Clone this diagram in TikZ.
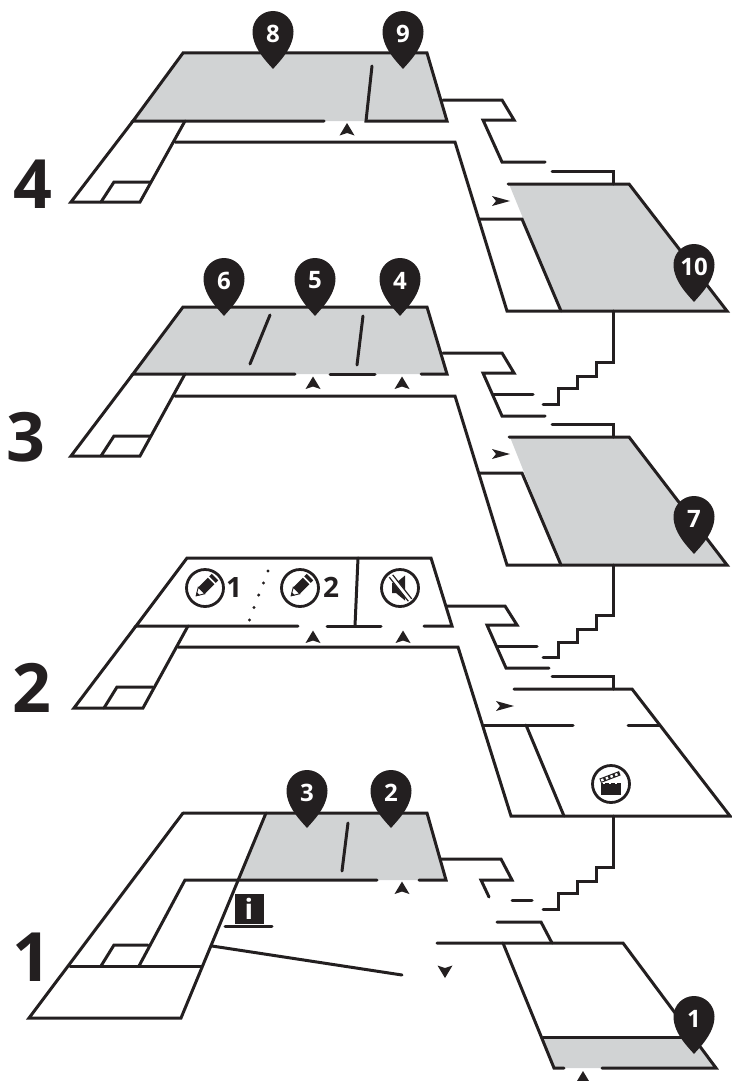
\documentclass[tikz,border=0pt]{standalone}
\usepackage{fontspec}
\setmainfont{Open Sans}
\usepackage{xcolor}
\usepackage{tikz}
\usetikzlibrary{positioning,calc}
\definecolor{ink}{HTML}{231F20}
\definecolor{roomgray}{HTML}{D1D3D4}
\tikzstyle{wall}= [draw=ink, line width=3pt, line cap=round, line join=miter, miter limit=6]
\tikzstyle{room}= [fill=roomgray, draw=none]
\tikzstyle{ring}= [draw=ink, line width=2.8pt, fill=white]
\tikzstyle{floorno}= [text=ink, font=\bfseries\fontsize{68}{68}\selectfont, inner sep=0pt]
\tikzstyle{pinno}= [text=white, font=\bfseries\fontsize{24}{24}\selectfont, inner sep=0pt]
\tikzstyle{iconno}= [text=ink, font=\bfseries\fontsize{28}{28}\selectfont, inner sep=0pt]
\tikzstyle{spot}= [circle, fill=ink, inner sep=0pt, minimum size=3.4pt]
\newcommand{\mappin}[4]{
	\fill[ink] (#2,#3) .. controls ($(#2,#3)+(-4,-5)$) and ($(#2,#3)+(-20.5,-20)$) .. ($(#2,#3)+(-20.5,-37.5)$)
		.. controls ($(#2,#3)+(-20.5,-49)$) and ($(#2,#3)+(-11,-58)$) .. ($(#2,#3)+(0,-58)$)
		.. controls ($(#2,#3)+(11,-58)$) and ($(#2,#3)+(20.5,-49)$) .. ($(#2,#3)+(20.5,-37.5)$)
		.. controls ($(#2,#3)+(20.5,-20)$) and ($(#2,#3)+(4,-5)$) .. (#2,#3) -- cycle;
	\node[pinno] (#1) at ($(#2,#3)+(0,-35.5)$) {#4};
}
\newcommand{\flowmark}[3]{
	\fill[ink, shift={(#1,#2)}, rotate=#3] (0,-6.5) -- (7.5,6) -- (0,3.5) -- (-7.5,6) -- cycle;
}
\newcommand{\sidemark}[2]{
	\fill[ink] (#1+9,#2) -- (#1-9,#2-5) -- (#1-5,#2) -- (#1-9,#2+5) -- cycle;
}
\newcommand{\pencilmark}[2]{
	\begin{scope}[shift={(#1,#2)}, rotate=45]
		\fill[ink] (-5,-4.6) rectangle (8.5,4.6);
		\fill[ink] (10.5,-4.6) rectangle (14,4.6);
		\draw[ink, line width=0.9pt, fill=white] (-5,-4.6) -- (-12.5,0) -- (-5,4.6) -- cycle;
		\fill[ink] (-13,0) -- (-9.5,-2.2) -- (-9.5,2.2) -- cycle;
	\end{scope}
}
\begin{document}
\begin{tikzpicture}[x=1pt,y=-1pt]
	\useasboundingbox (0,0) rectangle (731,1081);
	\fill[room] (183,53) -- (427,53) -- (447,121) -- (133,121) -- cycle;
	\fill[room] (509,184) -- (629,184) -- (727,311) -- (561,311) -- cycle;
	\fill[room] (183,307) -- (427,307) -- (447,374) -- (133,374) -- cycle;
	\fill[room] (510,437) -- (629,437) -- (727,565) -- (561,565) -- cycle;
	\fill[room] (266,813) -- (427,813) -- (446,880) -- (238,880) -- cycle;
	\fill[room] (543,1037) -- (693,1037) -- (716,1068) -- (554,1068) -- cycle;

	\node[floorno] (floor4) at (33,184) {4};
	\draw[wall] (324,121) -- (133,121) -- (183,53) -- (427,53) -- (447,121) -- (366,121) -- (372,66);
	\draw[wall] (133,121) -- (71,202) -- (140,202) -- (185,121);
	\draw[wall] (101,202) -- (114,182) -- (150,182);
	\draw[wall] (175,142) -- (455,142) -- (507,311) -- (727,311) -- (629,184) -- (508,184);
	\draw[wall] (479,219) -- (522,219) -- (561,311);
	\draw[wall] (443,100) -- (502,100) -- (514,120) -- (483,120) -- (502,162) -- (545,162);
	\draw[wall] (552,171) -- (613,171) -- (613,184);
	\flowmark{347}{129.5}{0}
	\sidemark{501}{201}

	\node[floorno] (floor3) at (26,437) {3};
	\draw[wall] (295,374) -- (133,374) -- (183,307) -- (427,307) -- (447,374) -- (421,374);
	\draw[wall] (330,374) -- (375,374);
	\draw[wall] (270,315) -- (250,364);
	\draw[wall] (363,316) -- (357,365);
	\draw[wall] (133,374) -- (71,456) -- (140,456) -- (185,374);
	\draw[wall] (101,456) -- (114,436) -- (150,436);
	\draw[wall] (175,396) -- (455,396) -- (507,565) -- (727,565) -- (629,437) -- (509,437);
	\draw[wall] (479,473) -- (522,473) -- (561,565);
	\draw[wall] (443,353) -- (502,353) -- (514,373) -- (483,373) -- (502,416) -- (545,416);
	\draw[wall] (493,394) -- (533,394);
	\draw[wall] (613,311) -- (613,362) -- (596,362) -- (596,376) -- (577,376) -- (577,388) -- (558,388) -- (558,404) -- (543,404);
	\draw[wall] (552,424) -- (613,424) -- (613,437);
	\flowmark{313}{383}{0}
	\flowmark{402}{383}{0}
	\sidemark{501}{454}

	\node[floorno] (floor2) at (32,688) {2};
	\draw[wall] (298,626) -- (136,626) -- (187,558) -- (431,558) -- (452,626) -- (424,626);
	\draw[wall] (327,626) -- (381,626);
	\draw[wall] (358,558) -- (355,626);
	\draw[wall] (136,626) -- (74,708) -- (143,708) -- (188,626);
	\draw[wall] (104,708) -- (117,687) -- (153,687);
	\draw[wall] (178,647) -- (458,647) -- (511,816) -- (730,816) -- (632,689) -- (514,689);
	\draw[wall] (483,725) -- (573,725);
	\draw[wall] (628,725) -- (659,725);
	\draw[wall] (526,725) -- (564,816);
	\draw[wall] (447,606) -- (505,606) -- (517,625) -- (487,625) -- (506,668) -- (549,668);
	\draw[wall] (497,646) -- (537,646);
	\draw[wall] (613,565) -- (613,615) -- (596,615) -- (596,629) -- (577,629) -- (577,642) -- (558,642) -- (558,657) -- (543,657);
	\draw[wall] (552,676) -- (613,676) -- (613,689);
	\flowmark{313}{637}{0}
	\flowmark{403}{637}{0}
	\sidemark{505}{706}

	\node[spot] (d1) at (268,571) {};
	\node[spot] (d2) at (263.5,583) {};
	\node[spot] (d3) at (258.7,595) {};
	\node[spot] (d4) at (254,607.5) {};
	\node[spot] (d5) at (249.5,620) {};

	\node[circle, ring, minimum size=37pt, inner sep=0pt] (draw1) at (205,588) {};
	\pencilmark{205}{587}
	\node[iconno] (one) at (234,587.5) {1};
	\node[circle, ring, minimum size=37pt, inner sep=0pt] (draw2) at (300,588) {};
	\pencilmark{300}{587}
	\node[iconno] (two) at (331,587.5) {2};

	\node[circle, ring, minimum size=37pt, inner sep=0pt] (mute) at (400,588) {};
	\fill[ink] (392,583) -- (396,583) -- (405,575.5) -- (405,600.5) -- (396,593) -- (392,593) -- cycle;
	\draw[white, line width=4.6pt] (391,576) -- (410,600);
	\draw[ink, line width=1.2pt] (392.7,574.8) -- (411.7,598.8);
	\draw[ink, line width=1.2pt] (389.3,577.2) -- (408.3,601.2);

	\node[circle, ring, minimum size=37pt, inner sep=0pt] (clap) at (611,784) {};
	\fill[ink] (601,782.5) rectangle (621,794.5);
	\draw[white, line width=1pt, dash pattern=on 2pt off 4pt] (603,783) -- (621,783);
	\fill[ink, shift={(610,777)}, rotate=21] (-10.5,-2.3) rectangle (10.5,2.3);
	\draw[white, line width=2.4pt, dash pattern=on 2.5pt off 2.5pt, shift={(610,777)}, rotate=21] (-9.5,0) -- (10,0);

	\node[floorno] (floor1) at (32,957) {1};
	\draw[wall] (183,813) -- (427,813) -- (446,880) -- (419,880);
	\draw[wall] (377,880) -- (185,880) -- (139,966);
	\draw[wall] (266,813) -- (181,1018) -- (29,1018) -- (183,813);
	\draw[wall] (70,966) -- (202,966);
	\draw[wall] (101,966) -- (114,945) -- (148,945);
	\draw[wall] (348,823) -- (342,871);
	\draw[wall] (212,946) -- (402,975);
	\draw[wall] (225,926) -- (272,926);
	\node[fill=ink, text=white, font=\bfseries\fontsize{28}{28}\selectfont, minimum width=29pt, minimum height=30pt, inner sep=0pt] (info) at (249,909) {i};
	\draw[wall] (441,859) -- (501,859) -- (512,880) -- (481,880) -- (489,897);
	\draw[wall] (512,900) -- (532,900);
	\draw[wall] (613,816) -- (613,867) -- (596,867) -- (596,881) -- (577,881) -- (577,893) -- (558,893) -- (558,909) -- (543,909);
	\draw[wall] (497,922) -- (541,922) -- (552,943);
	\draw[wall] (437,943) -- (623,943) -- (716,1068) -- (602,1068);
	\draw[wall] (564,1068) -- (554,1068) -- (503,943);
	\draw[wall] (543,1037) -- (694,1037);
	\flowmark{402}{888}{0}
	\flowmark{445}{971.5}{180}
	\flowmark{583}{1077.5}{0}

	\mappin{pin8}{273}{69}{8}
	\mappin{pin9}{403}{69}{9}
	\mappin{pin10}{694}{302}{10}
	\mappin{pin6}{224}{316}{6}
	\mappin{pin5}{315}{316}{5}
	\mappin{pin4}{400}{316}{4}
	\mappin{pin7}{694}{554}{7}
	\mappin{pin3}{307}{828}{3}
	\mappin{pin2}{391}{828}{2}
	\mappin{pin1}{694}{1054}{1}
\end{tikzpicture}
\end{document}
